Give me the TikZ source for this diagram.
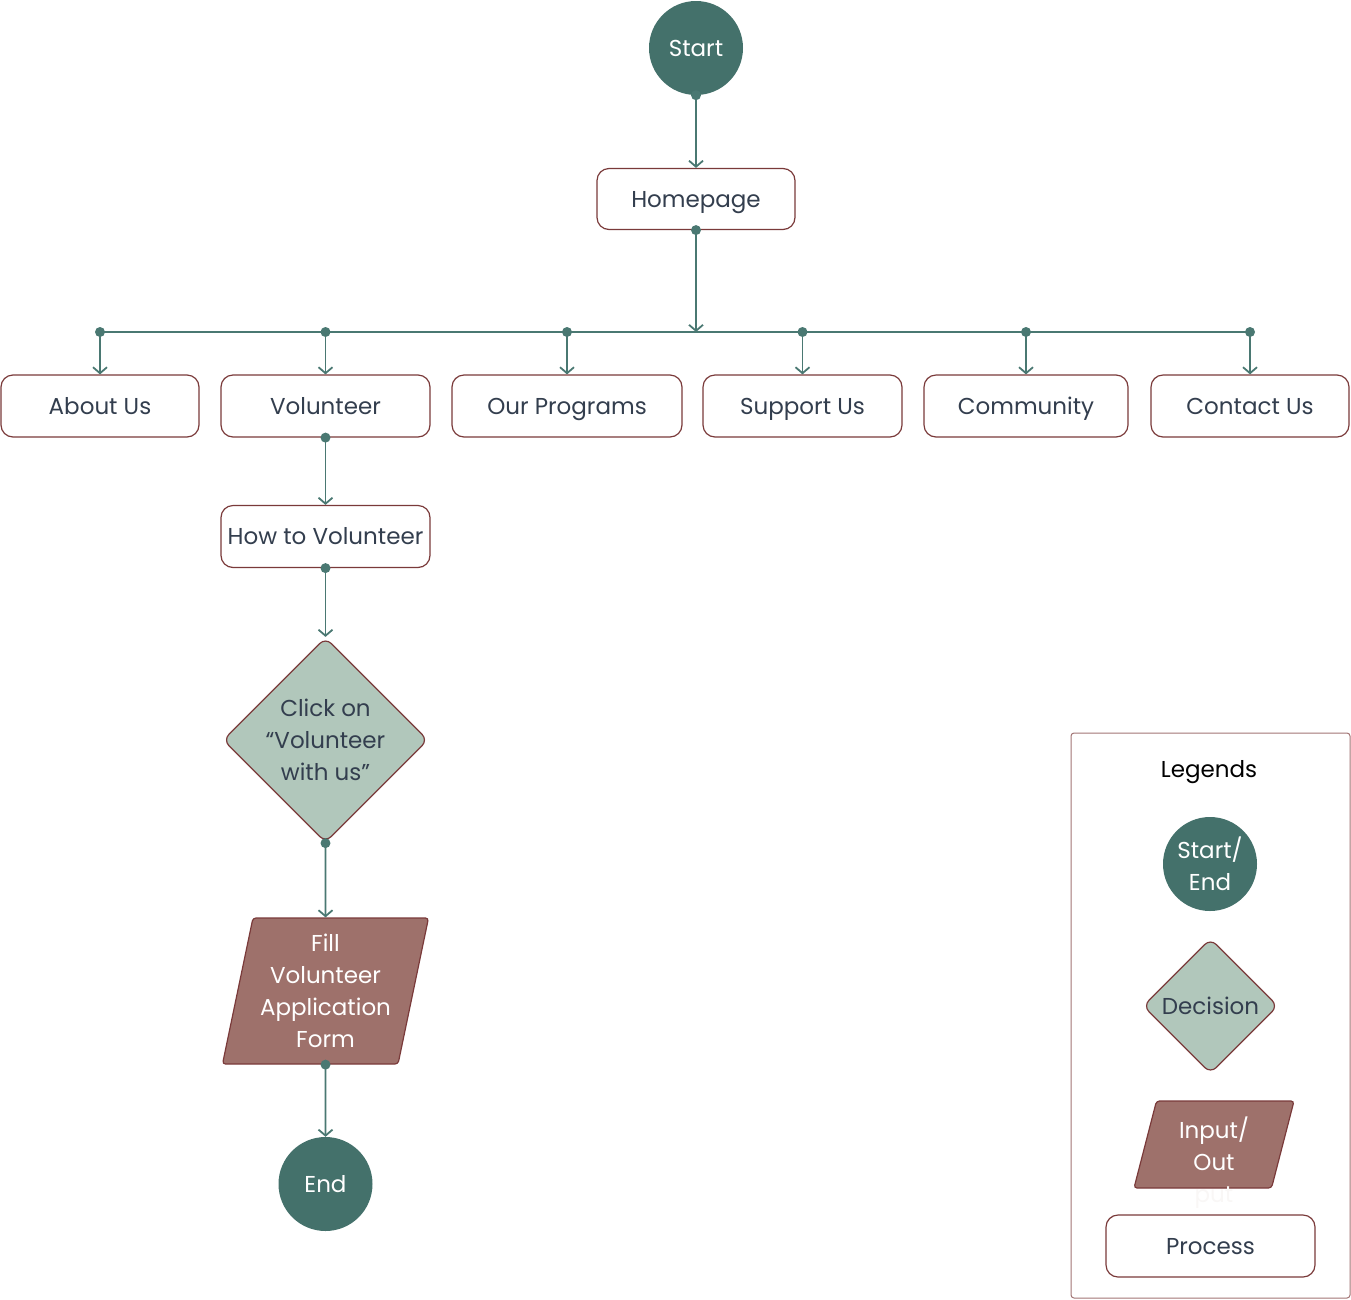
\documentclass[tikz,border=0pt]{standalone}
\usepackage{fontspec}
\setmainfont{Poppins}
\usetikzlibrary{shapes.geometric, arrows.meta, positioning}

\definecolor{darkteal}{HTML}{44716B}
\definecolor{linkteal}{HTML}{4A7872}
\definecolor{edgered}{HTML}{7A3A3A}
\definecolor{sagefill}{HTML}{B1C7BB}
\definecolor{clayfill}{HTML}{9E716B}
\definecolor{slatetext}{HTML}{333E4E}

\tikzset{
	basefont/.style={font=\fontsize{23}{32}\selectfont},
	procbox/.style={basefont, draw=edgered, line width=1.2pt, rounded corners=12pt, fill=white, text=slatetext, minimum height=62pt, inner sep=0pt, text height=19pt, text depth=3pt},
	termnode/.style={basefont, circle, fill=darkteal, text=white, minimum size=94pt, inner sep=0pt, align=center},
	decision/.style={basefont, diamond, draw=edgered, line width=1.2pt, fill=sagefill, text=slatetext, rounded corners=8pt, align=center, inner sep=-10pt},
	iobox/.style={basefont, trapezium, trapezium stretches body, draw=edgered, line width=1.2pt, fill=clayfill, text=white, rounded corners=3pt, align=center},
	link/.style={draw=linkteal, line width=1.8pt, -{Straight Barb[length=6pt,width=14pt]}},
	busline/.style={draw=linkteal, line width=1.8pt},
	joint/.style={fill=linkteal},
}

\begin{document}
\begin{tikzpicture}[x=1pt,y=-1pt]
	\useasboundingbox (0,0) rectangle (1351,1299);
	
	% Start and homepage
	\node[termnode] (start) at (696,48) {Start};
	\node[procbox, minimum width=198pt, minimum height=61pt] (home) at (696,199) {Homepage};
	\coordinate (hub) at (696,332);
	
	% Menu pages under the homepage
	\foreach \name/\cx/\boxw/\lbl in {about/100/198/About Us, volunteer/325.5/209/Volunteer, programs/567/230/Our Programs, support/802.5/199/Support Us, community/1026/204/Community, contact/1250/198/Contact Us}
	{
		\node[procbox, minimum width=\boxw pt] (\name) at (\cx,406) {\lbl};
		\coordinate (bus-\name) at (\name.north |- hub);
	}
	
	% Volunteer branch
	\node[procbox, minimum width=209pt] (howto) at (325.5,536.5) {How to Volunteer};
	\node[decision, minimum width=205pt, minimum height=205pt] (click) at (325.5,740) {Click on\\“Volunteer\\with us”};
	\node[iobox, trapezium left angle=75, trapezium right angle=105, minimum width=206pt, minimum height=146pt, inner xsep=-6pt, inner ysep=0pt] (form) at (325.5,991) {Fill\\Volunteer\\Application\\Form};
	\node[termnode] (end) at (325.5,1184) {End};
	
	% Connectors
	\draw[link] (start.south) -- (home.north);
	\draw[link] (home.south) -- (hub);
	\draw[busline] (bus-about) -- (bus-contact);
	\foreach \name in {about, volunteer, programs, support, community, contact}
	\draw[link] (bus-\name) -- (\name.north);
	\draw[link] (volunteer.south) -- (howto.north);
	\draw[link] (howto.south) -- (click.north);
	\draw[link] (click.south) -- (form.north);
	\draw[link] (form.south) -- (end.north);
	
	% Dots where connectors leave
	\foreach \pt in {start.south, home.south, volunteer.south, howto.south, click.south, form.south, bus-about, bus-volunteer, bus-programs, bus-support, bus-community, bus-contact}
	\fill[joint] (\pt) circle (5pt);
	
	% Legend
	\node[draw=edgered!70, line width=1pt, rounded corners=3pt, minimum width=279pt, minimum height=565pt] (legend) at (1210.5,1015.5) {};
	\node[basefont, text=black] (legtitle) at (1209,772) {Legends};
	\node[termnode] (legterm) at (1210,864) {Start/\\End};
	\node[decision, minimum width=135pt, minimum height=135pt, inner sep=0pt] (legdec) at (1210.5,1006) {Decision};
	\node[iobox, trapezium left angle=67, trapezium right angle=113, minimum width=160pt, minimum height=87pt, inner sep=0pt, text height=20pt, text depth=33pt] (legio) at (1214,1144.5) {\begin{tabular}[t]{@{}c@{}}Input/\\Out\\\textcolor{white!94!clayfill}{put}\end{tabular}};
	\node[procbox, minimum width=209pt] (legproc) at (1210.5,1246) {Process};
\end{tikzpicture}
\end{document}
